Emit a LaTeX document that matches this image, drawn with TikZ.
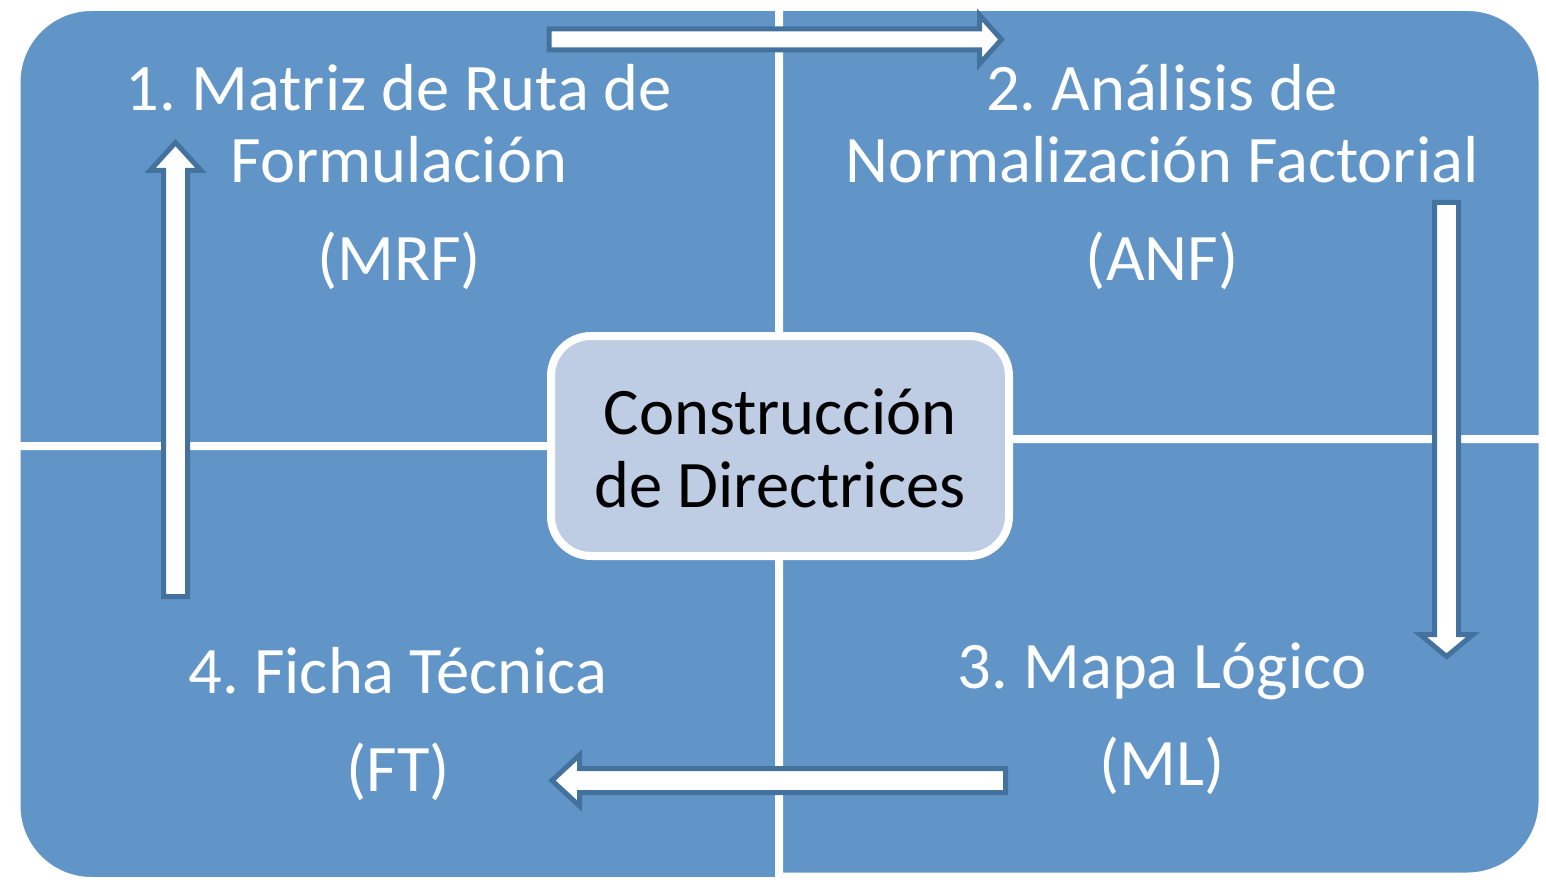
\documentclass[tikz,border=0pt]{standalone}
\usepackage{fontspec}
\setmainfont{Carlito}
\frenchspacing
\usetikzlibrary{shadows}
\definecolor{quadblue}{RGB}{97,149,199}
\definecolor{arrowedge}{RGB}{68,114,158}
\definecolor{centerfill}{RGB}{190,204,228}
\tikzset{
  quad/.style={fill=quadblue, draw=white, line width=8pt, line join=miter,
    drop shadow={shadow xshift=2pt, shadow yshift=-3pt, opacity=0.2}},
  blockarrow/.style={fill=white, draw=arrowedge, line width=5pt, line join=miter},
  quadtext/.style={text=white, align=center, inner sep=0pt, anchor=north,
    font=\fontsize{66.5}{72}\selectfont\frenchspacing},
  centerbox/.style={rectangle, rounded corners=40pt, fill=centerfill, draw=white,
    line width=8pt, minimum width=458pt, minimum height=220pt, inner sep=0pt,
    align=center, text=black, font=\fontsize{66.5}{73}\selectfont,
    drop shadow={shadow xshift=2pt, shadow yshift=-3pt, opacity=0.25}}
}
\begin{document}
\begin{tikzpicture}[x=1pt,y=-1pt]
\useasboundingbox[fill=white] (0,0) rectangle (1546,885);
% quadrants
\draw[quad] (779,446) -- (16.5,446) -- (16.5,82)
  .. controls (16.5,40.6) and (50.1,7) .. (91.5,7) -- (779,7) -- cycle;
\draw[quad] (779,439) -- (779,7) -- (1467.5,7)
  .. controls (1508.9,7) and (1542.5,40.6) .. (1542.5,82) -- (1542.5,439) -- cycle;
\draw[quad] (16.5,446) -- (779,446) -- (779,881) -- (91.5,881)
  .. controls (50.1,881) and (16.5,847.4) .. (16.5,806) -- cycle;
\draw[quad] (779,439) -- (1542.5,439) -- (1542.5,801.5)
  .. controls (1542.5,842.9) and (1508.9,876.5) .. (1467.5,876.5) -- (779,876.5) -- cycle;
% centre box
\node[centerbox] (centre) at (780,446)
  {\strut Construcción\\de Directrices};
% block arrows
\draw[blockarrow] (549,29) -- (979.5,29) -- (979.5,15) -- (1001.5,39.5)
  -- (979.5,64) -- (979.5,50) -- (549,50) -- cycle;
\draw[blockarrow] (1434.5,202.5) -- (1458.5,202.5) -- (1458.5,634.5) -- (1473,634.5)
  -- (1446.5,656.5) -- (1420,634.5) -- (1434.5,634.5) -- cycle;
\draw[blockarrow] (1005.5,768.5) -- (1005.5,792.5) -- (579.5,792.5) -- (579.5,806)
  -- (552,780.5) -- (579.5,755) -- (579.5,768.5) -- cycle;
\draw[blockarrow] (163.5,596.5) -- (187.5,596.5) -- (187.5,170.5) -- (201,170.5)
  -- (175.5,142.5) -- (150,170.5) -- (163.5,170.5) -- cycle;
% texts
\node[quadtext] (mrf) at (399,59.6) {\strut 1. Matriz de Ruta de\\Formulación\\[26pt](MRF)};
\node[quadtext] (anf) at (1162,59.6) {\strut 2. Análisis de\\Normalización Factorial\\[26pt](ANF)};
\node[quadtext] (ft) at (398,642.6) {\strut 4. Ficha Técnica\\[26pt](FT)};
\node[quadtext] (ml) at (1162,637.6) {\strut 3. Mapa Lógico\\[25pt](ML)};
\end{tikzpicture}
\end{document}
